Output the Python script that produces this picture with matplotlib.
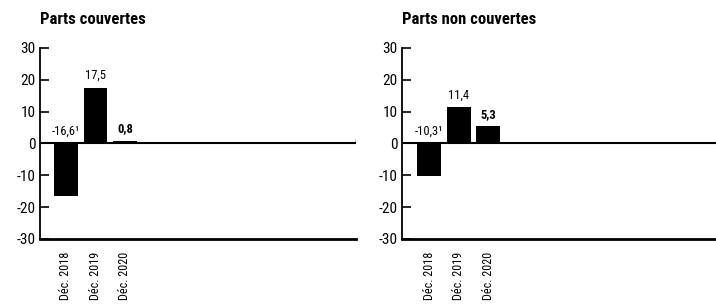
import matplotlib
matplotlib.use("Agg")
import matplotlib.pyplot as plt

categories = ["Déc. 2018", "Déc. 2019", "Déc. 2020"]
couvertes = [-16.6, 17.5, 0.8]
non_couvertes = [-10.3, 11.4, 5.3]
labels_couvertes = ["-16,6¹", "17,5", "0,8"]
labels_non_couvertes = ["-10,3¹", "11,4", "5,3"]
bold_flags = [False, False, True]
titles = ["Parts couvertes", "Parts non couvertes"]
yticks = [-30, -20, -10, 0, 10, 20, 30]

plt.rcParams["font.family"] = ["Liberation Sans Narrow", "Roboto Condensed",
                               "Liberation Sans", "DejaVu Sans"]

fig = plt.figure(figsize=(7.16, 3.05), dpi=100)
axes = [fig.add_axes([0.0559, 0.2164, 0.441, 0.627]),
        fig.add_axes([0.561, 0.2164, 0.440, 0.627])]
xlims = [(-0.88, 9.83), (-0.93, 9.73)]

for ax, vals, labs, title, xl in zip(axes, [couvertes, non_couvertes],
                                     [labels_couvertes, labels_non_couvertes], titles, xlims):
    x = list(range(len(categories)))
    ax.bar(x, vals, width=0.8, color="black", zorder=3)
    ax.axhline(0, color="black", lw=1.5, zorder=2)
    ax.set_xlim(*xl)
    ax.set_ylim(-30, 30)
    ax.set_yticks(yticks)
    ax.set_yticklabels([str(t) for t in yticks], fontsize=11)
    ax.tick_params(axis="y", direction="in", length=6.5, width=1.2, pad=3)
    ax.set_xticks(x)
    ax.set_xticklabels(categories, rotation=90, fontsize=8.7, va="top")
    ax.tick_params(axis="x", length=0, pad=9)
    for s in ["top", "right"]:
        ax.spines[s].set_visible(False)
    ax.spines["left"].set_linewidth(1.3)
    ax.spines["bottom"].set_linewidth(2)
    ax.axvline(xl[1], ymin=0.5, ymax=0.525, color="black", lw=1)
    for xi, v, lab, b in zip(x, vals, labs, bold_flags):
        ax.annotate(lab, (xi, max(v, 0)), xytext=(0, 4), textcoords="offset points",
                    ha="center", va="bottom", fontsize=9,
                    fontweight="bold" if b else "normal")
    ax.text(0.0, 1.11, title, transform=ax.transAxes, fontsize=12,
            fontweight="bold", ha="left", va="bottom")

fig.savefig("out.png", dpi=100)
